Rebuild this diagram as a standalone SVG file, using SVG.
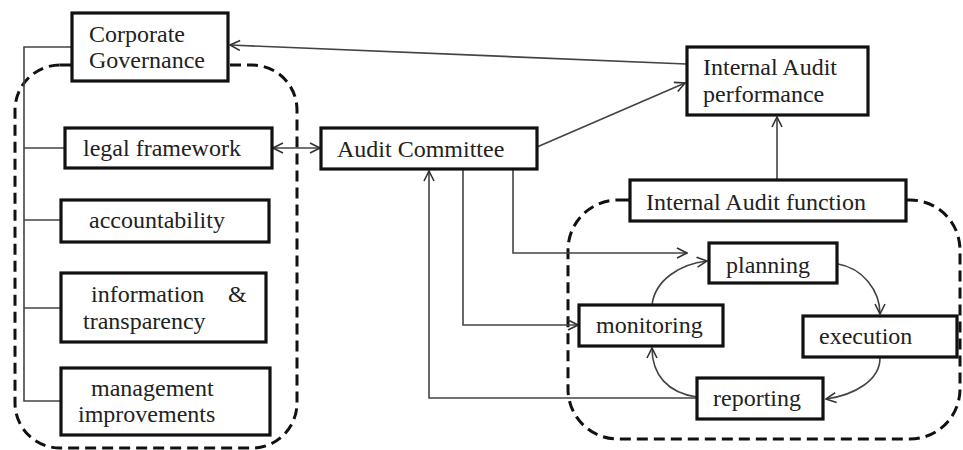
<svg xmlns="http://www.w3.org/2000/svg" width="963" height="450" viewBox="0 0 963 450">
<defs>
<marker id="arr" viewBox="0 0 12 12" refX="11" refY="6" markerWidth="12" markerHeight="12" markerUnits="userSpaceOnUse" orient="auto-start-reverse">
<path d="M1,1 L11,6 L1,11" fill="none" stroke="#333" stroke-width="1.6"/>
</marker>
<style>
.box{fill:#fff;stroke:#111;stroke-width:3.2}
.dash{fill:none;stroke:#111;stroke-width:3;stroke-dasharray:11 6}
.con{fill:none;stroke:#444;stroke-width:1.6}
text{font-family:"Liberation Serif","Times New Roman",serif;font-size:24px;fill:#222}
</style>
</defs>
<rect width="963" height="450" fill="#fff"/>
<g id="groups">
<rect class="dash" x="15" y="65" width="282" height="383" rx="45" ry="45"/>
<rect class="dash" x="568" y="200" width="392" height="239" rx="50" ry="50"/>
</g>
<g id="connectors">
<path class="con" d="M72,47 H24 V401 H61 M24,148 H65 M24,220 H61 M24,308 H61"/>
<line class="con" x1="686" y1="64" x2="230" y2="45" marker-end="url(#arr)"/>
<line class="con" x1="537" y1="147" x2="685" y2="83" marker-end="url(#arr)"/>
<line class="con" x1="273" y1="148" x2="320" y2="148" marker-start="url(#arr)" marker-end="url(#arr)"/>
<line class="con" x1="777" y1="180" x2="777" y2="117" marker-end="url(#arr)"/>
<path class="con" d="M697,398 H429 V171" marker-end="url(#arr)"/>
<path class="con" d="M463,170 V325 H578" marker-end="url(#arr)"/>
<path class="con" d="M513,170 V253 H687" marker-end="url(#arr)"/>
<path class="con" d="M652,305 C655,280 680,264 707,261" marker-end="url(#arr)"/>
<path class="con" d="M838,264 C862,268 880,290 880,314" marker-end="url(#arr)"/>
<path class="con" d="M880,358 C880,380 855,395 826,399" marker-end="url(#arr)"/>
<path class="con" d="M697,397 C668,393 652,375 652,348" marker-end="url(#arr)"/>
</g>
<g id="corporate-governance">
<rect class="box" x="72" y="13" width="156" height="68"/>
<text x="89" y="42">Corporate</text>
<text x="89" y="68">Governance</text>
</g>
<g id="legal-framework">
<rect class="box" x="65" y="128" width="207" height="40"/>
<text x="83" y="156">legal framework</text>
</g>
<g id="accountability">
<rect class="box" x="61" y="200" width="208" height="42"/>
<text x="89" y="228">accountability</text>
</g>
<g id="information-transparency">
<rect class="box" x="61" y="273" width="205" height="69"/>
<text x="91" y="302">information</text>
<text x="228" y="302">&amp;</text>
<text x="83" y="329">transparency</text>
</g>
<g id="management-improvements">
<rect class="box" x="61" y="368" width="209" height="67"/>
<text x="91" y="396">management</text>
<text x="78" y="422">improvements</text>
</g>
<g id="audit-committee">
<rect class="box" x="321" y="128" width="216" height="41"/>
<text x="337" y="157">Audit Committee</text>
</g>
<g id="internal-audit-performance">
<rect class="box" x="687" y="47" width="181" height="68"/>
<text x="703" y="75">Internal Audit</text>
<text x="703" y="102">performance</text>
</g>
<g id="internal-audit-function">
<rect class="box" x="630" y="180" width="276" height="41"/>
<text x="646" y="210">Internal Audit function</text>
</g>
<g id="planning">
<rect class="box" x="709" y="243" width="128" height="40"/>
<text x="726" y="273">planning</text>
</g>
<g id="execution">
<rect class="box" x="803" y="316" width="154" height="41"/>
<text x="819" y="344">execution</text>
</g>
<g id="reporting">
<rect class="box" x="697" y="378" width="126" height="41"/>
<text x="713" y="406">reporting</text>
</g>
<g id="monitoring">
<rect class="box" x="579" y="305" width="144" height="41"/>
<text x="596" y="333">monitoring</text>
</g>
</svg>
